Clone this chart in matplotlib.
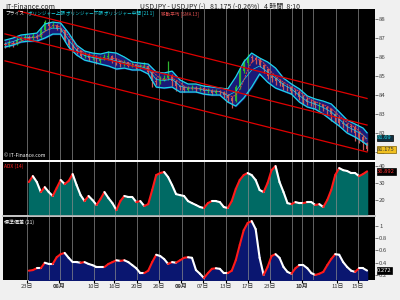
import numpy as np
import pandas as pd
import matplotlib
matplotlib.use("Agg")
from matplotlib import pyplot as plt
from matplotlib.collections import LineCollection

plt.rcParams['font.family'] = ['Noto Sans CJK JP', 'DejaVu Sans']

# price candles (4 hour bars, one value per bar)
closes = [86.63, 86.75, 86.70, 86.92, 86.98, 87.05, 86.98, 87.10, 87.05, 87.40,
          87.84, 87.62, 87.70, 87.48, 87.40, 86.89, 86.62, 86.40, 86.30, 86.05,
          86.10, 85.95, 86.02, 85.80, 85.92, 85.98, 86.05, 85.80, 85.78, 85.62,
          85.72, 85.55, 85.60, 85.48, 85.50, 85.55, 85.20, 84.75, 84.70, 84.85,
          84.90, 85.05, 84.75, 84.45, 84.40, 84.28, 84.35, 84.38, 84.30, 84.35,
          84.22, 84.25, 84.12, 84.20, 84.15, 83.98, 83.85, 83.70, 84.40, 85.25,
          85.70, 86.00, 85.95, 85.85, 85.60, 85.35, 84.98, 84.88, 84.75, 84.65,
          84.42, 84.40, 84.22, 84.18, 83.92, 83.78, 83.65, 83.62, 83.50, 83.50,
          83.35, 83.25, 83.00, 82.82, 82.55, 82.50, 82.35, 82.30, 82.00, 81.80,
          81.45, 81.175]
highs = [86.80, 86.90, 86.85, 87.05, 87.10, 87.20, 87.15, 87.25, 87.20, 87.60,
         87.95, 87.90, 87.85, 87.75, 87.55, 87.45, 86.95, 86.70, 86.55, 86.35,
         86.25, 86.20, 86.15, 86.10, 86.05, 86.15, 86.30, 86.10, 85.95, 85.85,
         85.85, 85.75, 85.72, 85.65, 85.62, 85.75, 85.60, 85.25, 84.95, 85.00,
         85.05, 85.80, 85.10, 84.80, 84.55, 84.50, 84.50, 84.55, 84.48, 84.50,
         84.40, 84.38, 84.30, 84.32, 84.28, 84.20, 84.05, 83.95, 84.55, 85.40,
         85.90, 86.15, 86.10, 86.05, 85.95, 85.65, 85.40, 85.05, 84.95, 84.85,
         84.70, 84.55, 84.45, 84.30, 84.25, 84.00, 83.90, 83.78, 83.70, 83.65,
         83.55, 83.42, 83.30, 83.05, 82.90, 82.70, 82.55, 82.45, 82.40, 82.10,
         81.90, 81.55]
lows = [86.50, 86.55, 86.55, 86.65, 86.85, 86.90, 86.85, 86.90, 86.95, 87.00,
        87.35, 87.50, 87.55, 87.40, 87.30, 86.80, 86.45, 86.30, 86.15, 85.95,
        85.95, 85.80, 85.85, 85.65, 85.70, 85.85, 85.85, 85.70, 85.60, 85.50,
        85.55, 85.45, 85.45, 85.35, 85.40, 85.40, 85.10, 84.40, 84.55, 84.60,
        84.75, 84.80, 84.50, 84.20, 84.25, 84.15, 84.20, 84.25, 84.15, 84.20,
        84.05, 84.10, 84.00, 84.05, 84.00, 83.85, 83.65, 83.30, 83.65, 84.30,
        85.15, 85.60, 85.75, 85.65, 85.45, 85.15, 84.85, 84.70, 84.55, 84.45,
        84.25, 84.20, 84.05, 84.00, 83.75, 83.55, 83.45, 83.40, 83.30, 83.20,
        83.15, 82.95, 82.65, 82.60, 82.35, 82.25, 82.05, 82.05, 81.60, 81.50,
        81.10, 81.05]
first_open = 86.70

# bollinger band (21, 1), read every second bar
band_idx = list(range(0, 92, 2)) + [91]
band_upper = [86.89, 87.00, 87.16, 87.21, 87.26, 87.74, 87.84, 87.79, 87.26, 86.63,
              86.32, 86.21, 86.16, 86.26, 86.21, 86.00, 85.74, 85.68, 85.63, 85.21,
              85.16, 85.26, 84.79, 84.58, 84.58, 84.47, 84.42, 84.37, 84.32, 84.95,
              85.74, 86.21, 85.95, 85.74, 85.42, 84.89, 84.58, 84.32, 83.95, 83.79,
              83.68, 83.53, 83.11, 82.68, 82.47, 82.26, 82.01]
band_lower = [86.53, 86.63, 86.79, 86.84, 86.84, 87.00, 87.21, 87.21, 86.53, 86.11,
              85.84, 85.74, 85.63, 85.53, 85.37, 85.42, 85.32, 85.32, 85.11, 84.42,
              84.37, 84.42, 84.16, 84.16, 84.16, 84.05, 84.00, 84.00, 83.63, 83.42,
              83.84, 84.42, 85.11, 84.68, 84.37, 84.21, 84.05, 83.63, 83.37, 83.26,
              83.00, 82.68, 82.37, 82.00, 81.79, 81.53, 81.37]
sma_window = 4  # 13 real bars is about 4 of the bars kept here

# trend channel: (start bar, start price, end bar, end price)
channel = [(3.5, 88.42, 91, 83.82),
           (0, 87.22, 91, 82.42),
           (0, 85.80, 91, 81.00)]

# indicators start at bar 6
ind_start = 6
adx = [30.6, 34.1, 30.6, 24.7, 27.6, 24.7, 22.4, 27.1, 31.8, 29.4,
       31.2, 35.3, 28.8, 22.9, 19.4, 22.4, 20.0, 17.1, 20.6, 24.7,
       21.2, 18.2, 14.1, 19.4, 22.4, 21.8, 21.8, 18.8, 19.4, 16.5,
       17.6, 25.9, 34.7, 35.9, 36.5, 33.5, 28.8, 23.5, 22.9, 22.4,
       19.4, 18.2, 17.1, 15.9, 15.3, 18.2, 19.4, 19.4, 18.8, 15.9,
       15.3, 19.4, 26.5, 31.8, 34.7, 35.9, 34.7, 31.8, 25.9, 24.7,
       30.0, 37.6, 40.0, 30.6, 24.7, 18.2, 17.6, 18.8, 18.2, 18.2,
       18.8, 18.8, 17.1, 17.6, 15.9, 20.0, 25.9, 34.7, 38.8, 37.6,
       37.1, 35.9, 35.9, 34.1, 35.3, 36.892]
stdev = [0.27, 0.28, 0.31, 0.31, 0.40, 0.38, 0.38, 0.49, 0.54, 0.56,
         0.48, 0.41, 0.41, 0.40, 0.41, 0.38, 0.36, 0.33, 0.33, 0.33,
         0.38, 0.41, 0.44, 0.43, 0.44, 0.41, 0.36, 0.31, 0.23, 0.23,
         0.27, 0.41, 0.53, 0.51, 0.46, 0.38, 0.41, 0.40, 0.44, 0.48,
         0.49, 0.48, 0.28, 0.22, 0.15, 0.23, 0.30, 0.31, 0.30, 0.23,
         0.23, 0.27, 0.44, 0.69, 0.93, 1.05, 1.08, 0.95, 0.48, 0.20,
         0.33, 0.51, 0.54, 0.48, 0.33, 0.25, 0.22, 0.31, 0.36, 0.36,
         0.31, 0.23, 0.20, 0.22, 0.25, 0.36, 0.46, 0.54, 0.53, 0.41,
         0.33, 0.27, 0.25, 0.31, 0.31, 0.272]

# time axis (bar positions)
grid_bars = [5.5, 11, 13.75, 16.75, 22.25, 27.75, 33.25, 38.75, 44.5, 50,
             55.5, 61, 66.5, 72.25, 74.75, 77.5, 83.25, 88.75]
tick_bars = [5.5, 13.5, 22.25, 27.5, 33.25, 38.75, 44.25, 49.75, 55.5, 61,
             66.5, 74.75, 83.5, 88.75]
tick_labels = ['23日', '08月', '10日', '16日', '20日', '26日', '09月', '07日',
               '13日', '17日', '23日', '10月', '11日', '15日']
bold_labels = ['08月', '09月', '10月']

BG = '#f0f0f0'
fig = plt.figure(figsize=(4, 3), dpi=100, facecolor=BG)
ax1 = fig.add_axes([0.0075, 0.4667, 0.93, 0.5033])
ax2 = fig.add_axes([0.0075, 0.2833, 0.93, 0.1767])
ax3 = fig.add_axes([0.0075, 0.0667, 0.93, 0.2100])
XMAX = 93.0
for ax in (ax1, ax2, ax3):
    ax.set_facecolor('black')
    ax.set_xlim(-0.5, XMAX)
    ax.yaxis.tick_right()
    ax.tick_params(axis='y', length=2, width=0.5, pad=1, labelsize=4.3, colors='#444444')
    ax.tick_params(axis='x', length=0)
    ax.set_xticks([])
    for s in ax.spines.values():
        s.set_visible(False)
    for g in grid_bars:
        ax.axvline(g, color='#8c8c8c', lw=0.7, alpha=0.7, zorder=2)

# ---- main price panel
ax1.set_ylim(80.58, 88.53)
ax1.set_yticks([81, 82, 83, 84, 85, 86, 87, 88])
ax1.set_yticklabels(['81', '82', '83', '84', '85', '86', '87', '88'])

bars = np.arange(len(closes))
opens = [first_open] + closes[:-1]
up = [c >= o for o, c in zip(opens, closes)]
cols = ['#2fb52f' if u else '#c85a5a' for u in up]
ax1.fill_between(band_idx, band_lower, band_upper, color='#1a1a78', zorder=1)
ax1.vlines(bars, lows, highs, colors=cols, lw=0.9, zorder=3)
ax1.bar(bars, np.array(closes) - np.array(opens), bottom=opens, width=0.5,
        color=cols, zorder=3, linewidth=0)
ax1.plot(band_idx, band_upper, color='#19d8e8', lw=0.9, zorder=4)
ax1.plot(band_idx, band_lower, color='#19d8e8', lw=0.9, zorder=4)
band_mid = (np.array(band_upper) + np.array(band_lower)) / 2
ax1.plot(band_idx, band_mid, color='#19d8e8', lw=0.5, zorder=4)
sma = pd.Series(closes).rolling(sma_window, min_periods=1).mean()
ax1.plot(bars, sma, color='#e04040', lw=0.7, ls=(0, (2, 1)), zorder=4)
for x0, y0, x1, y1 in channel:
    ax1.plot([x0, x1], [y0, y1], color='#e00000', lw=0.9, zorder=5)

ax1.text(0.006, 0.988, 'プライス', transform=ax1.transAxes, color='white',
         fontsize=3.4, va='top', zorder=6)
ax1.text(0.067, 0.988, 'ボリンジャー上限 ボリンジャー下限 ボリンジャー中間 [21 1]',
         transform=ax1.transAxes, color='#19d8e8', fontsize=3.3, va='top', zorder=6)
ax1.text(0.425, 0.988, '移動平均 [SMA 13]', transform=ax1.transAxes,
         color='#e05050', fontsize=3.3, va='top', zorder=6)
ax1.text(0.003, 0.01, '© IT-Finance.com', transform=ax1.transAxes, color='white',
         fontsize=3.6, va='bottom', zorder=6)
ax1.annotate(f'{band_mid[-1]:.2f}', xy=(1.0, band_mid[-1]), xycoords=('axes fraction', 'data'),
             xytext=(1.006, band_mid[-1] + 0.05), textcoords=('axes fraction', 'data'),
             fontsize=4.2, color='#19d8e8', va='center', ha='left',
             bbox=dict(boxstyle='square,pad=0.12', fc='#103040', ec='black', lw=0.5))
ax1.annotate('81.175', xy=(1.0, closes[-1]), xycoords=('axes fraction', 'data'),
             xytext=(1.006, closes[-1] - 0.05), textcoords=('axes fraction', 'data'),
             fontsize=4.2, color='#333333', va='center', ha='left',
             bbox=dict(boxstyle='square,pad=0.12', fc='#f0c020', ec='#806000', lw=0.5))


def color_line(ax, xs, ys, bottom, fill):
    ax.fill_between(xs, bottom, ys, color=fill, zorder=1)
    segs = [[(xs[i], ys[i]), (xs[i + 1], ys[i + 1])] for i in range(len(xs) - 1)]
    c = ['#ff1a1a' if ys[i + 1] > ys[i] else 'white' for i in range(len(xs) - 1)]
    ax.add_collection(LineCollection(segs, colors=c, linewidths=1.5, zorder=4,
                                     capstyle='round'))


ind_x = np.arange(ind_start, ind_start + len(adx))

# ---- ADX panel
ax2.set_ylim(11.2, 42.4)
ax2.set_yticks([20, 30, 40])
color_line(ax2, ind_x, adx, 11.2, '#006a64')
ax2.text(0.003, 0.97, 'ADX (14)', transform=ax2.transAxes, color='#ff2020',
         fontsize=3.6, va='top')
ax2.annotate('36.892', xy=(1.0, adx[-1]), xycoords=('axes fraction', 'data'),
             xytext=(1.006, adx[-1]), textcoords=('axes fraction', 'data'),
             fontsize=4.2, color='#ff3030', va='center', ha='left',
             bbox=dict(boxstyle='square,pad=0.12', fc='black', ec='black', lw=0.5))

# ---- standard deviation panel
ax3.set_ylim(0.118, 1.147)
ax3.set_yticks([0.2, 0.4, 0.6, 0.8, 1.0])
ax3.set_yticklabels(['0.2', '0.4', '0.6', '0.8', '1'])
color_line(ax3, ind_x, stdev, 0.118, '#0a1670')
ax3.text(0.003, 0.97, '標準偏差 (21)', transform=ax3.transAxes, color='white',
         fontsize=3.6, va='top')
ax3.annotate('0.272', xy=(1.0, stdev[-1]), xycoords=('axes fraction', 'data'),
             xytext=(1.006, stdev[-1]), textcoords=('axes fraction', 'data'),
             fontsize=4.2, color='white', va='center', ha='left',
             bbox=dict(boxstyle='square,pad=0.12', fc='black', ec='black', lw=0.5))

ax3.set_xticks(tick_bars)
ax3.set_xticklabels(tick_labels, fontsize=4.2, color='#333333')
for lbl in ax3.get_xticklabels():
    if lbl.get_text() in bold_labels:
        lbl.set_fontweight('bold')
ax3.tick_params(axis='x', length=2, pad=1)

# separators and header
fig.add_artist(plt.Line2D([0.0075, 0.9375], [0.4650, 0.4650], color='white', lw=1.2))
fig.add_artist(plt.Line2D([0.0075, 0.9375], [0.2800, 0.2800], color='#b8b8b8', lw=1.2))
fig.text(0.012, 0.978, 'IT-Finance.com', fontsize=5, color='#222222', va='center')
fig.text(0.35, 0.978, 'USDJPY - USDJPY (-)   81.175 (-0.26%)   4 時間  8:10',
         fontsize=5, color='#222222', va='center')

fig.savefig('out.png', dpi=100, facecolor=BG)
